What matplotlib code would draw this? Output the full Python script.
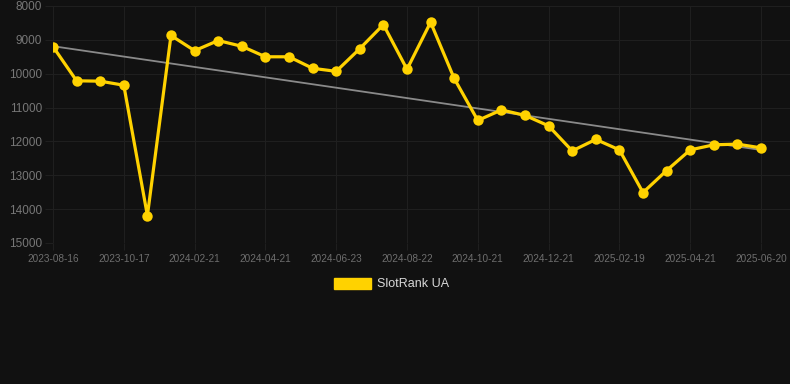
import numpy as np
import matplotlib

matplotlib.use("Agg")
import matplotlib.pyplot as plt
from matplotlib.patches import Patch

plt.rcParams["font.family"] = ["Liberation Sans", "DejaVu Sans"]

# rank values, one per snapshot (evenly spaced in the reference)
rank = [9200, 10210, 10220, 10340, 14190, 8870, 9320, 9020, 9190, 9500,
        9500, 9840, 9930, 9260, 8550, 9870, 8480, 10140, 11380, 11070,
        11230, 11540, 12280, 11940, 12250, 13510, 12860, 12250, 12100, 12080,
        12190]
# only every third snapshot carries a date label
tick_labels = ["2023-08-16", "2023-10-17", "2024-02-21", "2024-04-21",
               "2024-06-23", "2024-08-22", "2024-10-21", "2024-12-21",
               "2025-02-19", "2025-04-21", "2025-06-20"]
series_name = "SlotRank UA"

BG = "#111111"
GRID = "#1f1f1f"
TXT = "#6e6e6e"
YELLOW = "#FFD200"

W, H = 790, 384
fig = plt.figure(figsize=(W / 100, H / 100), dpi=100, facecolor=BG)
# chart area in pixels: x 53..790, y 6..243
ax = fig.add_axes([53 / W, 1 - 243 / H, (790 - 53) / W, (243 - 6) / H])
ax.set_facecolor(BG)

x = np.arange(len(rank))
y = np.array(rank, dtype=float)

# linear trend
k, b = np.polyfit(x, y, 1)
ax.plot(x, k * x + b, color="#8a8a8a", lw=1.3, zorder=2)

ax.plot(x, y, color=YELLOW, lw=2.3, marker="o", markersize=7.5,
        markeredgewidth=0, zorder=3)

step = 23.6  # px per point
ax.set_xlim(0, (790 - 53) / step)
ax.set_ylim(15000, 8000)
ax.set_yticks(np.arange(8000, 15001, 1000))
ax.set_xticks(x[::3])
ax.set_xticklabels(tick_labels)

ax.grid(True, color=GRID, lw=0.8)
for s in ax.spines.values():
    s.set_visible(False)
ax.tick_params(axis="y", colors=GRID, length=6, width=0.8, pad=2,
               labelcolor="#777777", labelsize=8.5)
ax.tick_params(axis="x", colors=GRID, length=5, width=0.8, pad=3,
               labelcolor=TXT, labelsize=7.2)

handles = [Patch(facecolor=YELLOW, edgecolor=YELLOW, label=series_name)]
fig.legend(handles=handles, loc="center",
           bbox_to_anchor=(0.5 - 3.5 / W, 1 - 284 / H),
           frameon=False, handlelength=3.0, handleheight=1.0,
           handletextpad=0.5, fontsize=9, labelcolor="#d8d8d8")

fig.savefig("out.png", dpi=100, facecolor=BG)
